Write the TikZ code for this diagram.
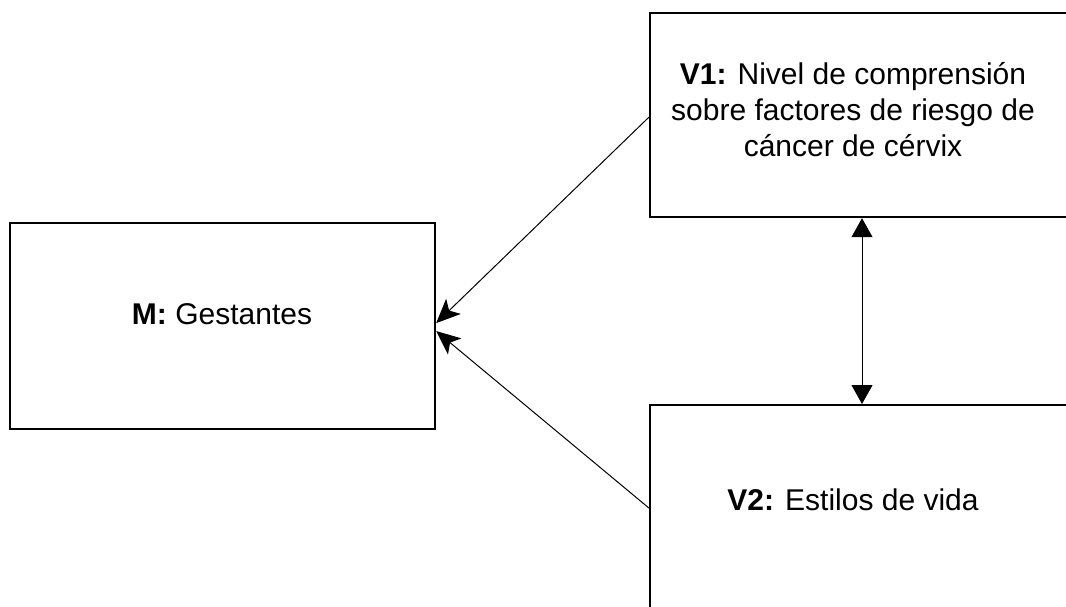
\documentclass[tikz,border=0pt]{standalone}
\usepackage{fontspec}
\setmainfont{Liberation Sans}
\usetikzlibrary{arrows.meta}
\begin{document}
\begin{tikzpicture}[x=1pt,y=-1pt,
  box/.style={draw, line width=2.2pt, inner sep=0pt, anchor=north west},
  lbl/.style={align=center, font=\fontsize{30}{36}\selectfont, inner sep=0pt},
  arr/.style={line width=1pt, -{Stealth[length=24pt,width=21pt,inset=6pt]}},
  darr/.style={line width=1pt, {Triangle[length=19pt,width=21pt]}-{Triangle[length=19pt,width=21pt]}}]
\useasboundingbox (0,0) rectangle (1066,607);
\fill[white] (0,0) rectangle (1066,607);
\clip (0,0) rectangle (1066,607);
\node[box, minimum width=425pt, minimum height=206pt] (m) at (9,222) {};
\node[box, minimum width=430pt, minimum height=204pt] (v1) at (649,12) {};
\node[box, minimum width=430pt, minimum height=206pt] (v2) at (649,404) {};
\node[lbl] (mt) at (222,314) {\textbf{M:} Gestantes};
\node[lbl] (v1t) at (853,110) {\textbf{V1:} Nivel de comprensión\\sobre factores de riesgo de\\cáncer de cérvix};
\node[lbl] (v2t) at (853,500) {\textbf{V2:} Estilos de vida};
\coordinate (vx) at (862,0);
\draw[arr] ([yshift=-2pt]v1.west) -- ([yshift=3pt]m.east);
\draw[arr] (v2.west) -- ([yshift=-5pt]m.east);
\draw[darr] (v1.south -| vx) -- (v2.north -| vx);
\end{tikzpicture}
\end{document}
